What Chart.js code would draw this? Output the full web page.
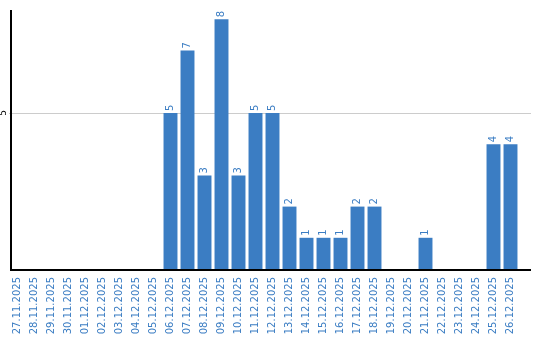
<!DOCTYPE html>
<html>
<head>
<meta charset="utf-8">
<script src="https://cdn.jsdelivr.net/npm/chart.js@4"></script>
<style>
  html, body { margin: 0; padding: 0; background: #fff; }
  #wrap { width: 540px; height: 340px; }
</style>
</head>
<body>
<div id="wrap"><canvas id="barchart" width="540" height="340"></canvas></div>
<script>
const dates = [
  "27.11.2025", "28.11.2025", "29.11.2025", "30.11.2025", "01.12.2025",
  "02.12.2025", "03.12.2025", "04.12.2025", "05.12.2025", "06.12.2025",
  "07.12.2025", "08.12.2025", "09.12.2025", "10.12.2025", "11.12.2025",
  "12.12.2025", "13.12.2025", "14.12.2025", "15.12.2025", "16.12.2025",
  "17.12.2025", "18.12.2025", "19.12.2025", "20.12.2025", "21.12.2025",
  "22.12.2025", "23.12.2025", "24.12.2025", "25.12.2025", "26.12.2025",
];
const counts = [0, 0, 0, 0, 0, 0, 0, 0, 0, 5, 7, 3, 8, 3, 5, 5, 2, 1, 1, 1, 2, 2, 0, 0, 1, 0, 0, 0, 4, 4];
const yTicks = [0, 5];

const BLUE = "#3b7dc3";
const FONT = "DejaVu Sans";

// gridline behind the bars, running out to the end of the x axis
const gridBehind = {
  id: "gridBehind",
  beforeDatasetsDraw(chart) {
    const { ctx, chartArea } = chart;
    const y = chart.scales.y;
    ctx.save();
    ctx.strokeStyle = "#cccccc";
    ctx.lineWidth = 1;
    yTicks.filter(v => v !== 0).forEach(v => {
      const py = Math.round(y.getPixelForValue(v)) + 0.5;
      ctx.beginPath();
      ctx.moveTo(chartArea.left, py);
      ctx.lineTo(chartArea.right + 12, py);
      ctx.stroke();
    });
    ctx.restore();
  },
};

// axis lines, rotated y tick and value labels above bars
const decorations = {
  id: "decorations",
  afterDatasetsDraw(chart) {
    const { ctx, chartArea } = chart;
    const y = chart.scales.y;
    const meta = chart.getDatasetMeta(0);

    ctx.save();
    ctx.fillStyle = BLUE;
    ctx.font = "10px " + FONT;
    ctx.textAlign = "left";
    ctx.textBaseline = "middle";
    meta.data.forEach((bar, i) => {
      if (!counts[i]) return;
      ctx.save();
      ctx.translate(bar.x, bar.y - 2);
      ctx.rotate(-Math.PI / 2);
      ctx.fillText(String(counts[i]), 0, 0);
      ctx.restore();
    });

    // y tick labels (skip zero)
    ctx.fillStyle = "#000";
    ctx.font = "9px " + FONT;
    ctx.textAlign = "center";
    yTicks.filter(v => v !== 0).forEach(v => {
      ctx.save();
      ctx.translate(4, y.getPixelForValue(v));
      ctx.rotate(-Math.PI / 2);
      ctx.fillText(String(v), 0, 0);
      ctx.restore();
    });

    // axes
    ctx.strokeStyle = "#000";
    ctx.lineWidth = 2;
    ctx.beginPath();
    ctx.moveTo(chartArea.left + 2, chartArea.top);
    ctx.lineTo(chartArea.left + 2, chartArea.bottom + 1);
    ctx.lineTo(chartArea.right + 12, chartArea.bottom + 1);
    ctx.stroke();
    ctx.restore();
  },
};

const config = {
  type: "bar",
  data: {
    labels: dates,
    datasets: [
      {
        data: counts,
        backgroundColor: BLUE,
        borderWidth: 0,
        barPercentage: 0.82,
        categoryPercentage: 1,
      },
    ],
  },
  options: {
    responsive: false,
    animation: false,
    layout: { padding: { left: 9, top: 10, right: 21, bottom: 0 } },
    plugins: {
      legend: { display: false },
      tooltip: { enabled: false },
    },
    scales: {
      x: {
        grid: { display: false, drawTicks: false },
        border: { display: false },
        ticks: {
          color: BLUE,
          font: { family: FONT, size: 10 },
          minRotation: 90,
          maxRotation: 90,
          padding: 8,
          autoSkip: false,
        },
        afterFit: (scale) => { scale.height = 71; },
      },
      y: {
        min: 0,
        max: 8.3,
        grid: { display: false, drawTicks: false },
        border: { display: false },
        ticks: { display: false },
        afterBuildTicks: (scale) => {
          scale.ticks = yTicks.map(v => ({ value: v }));
        },
        afterFit: (scale) => { scale.width = 0; },
      },
    },
  },
  plugins: [gridBehind, decorations],
};

const ctx = document.getElementById("barchart").getContext("2d");
const myChart = new Chart(ctx, config);
</script>
</body>
</html>
